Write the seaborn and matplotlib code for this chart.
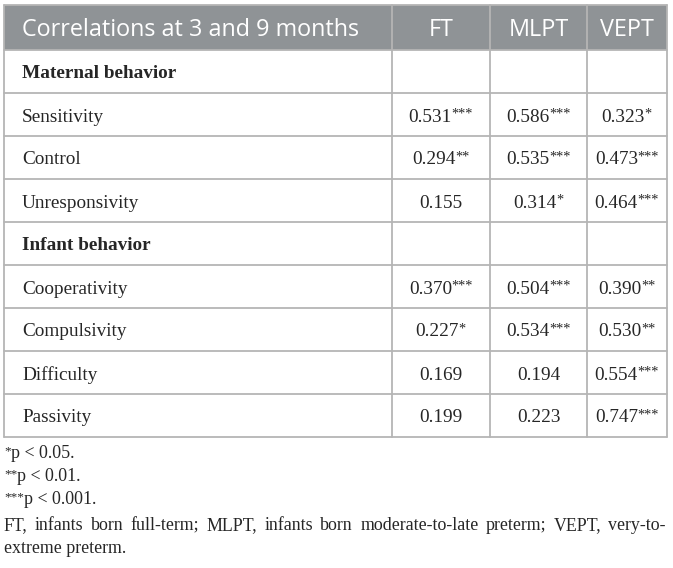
"""
Tabela de correlações 3 e 9 meses (FT / MLPT / VEPT) desenhada como figura.
Saída: out.png
"""
import matplotlib
matplotlib.use("Agg")
import matplotlib.pyplot as plt
from matplotlib.patches import Rectangle
import pandas as pd
import seaborn as sns

# ---- dados -----------------------------------------------------------------
header_title = "Correlations at 3 and 9 months"
groups = ["FT", "MLPT", "VEPT"]

row_labels = ["Maternal behavior", "Sensitivity", "Control", "Unresponsivity",
              "Infant behavior", "Cooperativity", "Compulsivity", "Difficulty", "Passivity"]
is_section = [True, False, False, False, True, False, False, False, False]

ft_r = [None, 0.531, 0.294, 0.155, None, 0.370, 0.227, 0.169, 0.199]
ft_sig = ["", "***", "**", "", "", "***", "*", "", ""]
mlpt_r = [None, 0.586, 0.535, 0.314, None, 0.504, 0.534, 0.194, 0.223]
mlpt_sig = ["", "***", "***", "*", "", "***", "***", "", ""]
vept_r = [None, 0.323, 0.473, 0.464, None, 0.390, 0.530, 0.554, 0.747]
vept_sig = ["", "*", "***", "***", "", "**", "**", "***", "***"]

notes_sig = [("*", "p < 0.05."), ("**", "p < 0.01."), ("***", "p < 0.001.")]
note_abbrev = ["FT, infants born full-term; MLPT, infants born moderate-to-late preterm; VEPT, very-to-",
               "extreme preterm."]

table = pd.DataFrame({
    "label": row_labels,
    "section": is_section,
    "FT": ft_r, "FT_sig": ft_sig,
    "MLPT": mlpt_r, "MLPT_sig": mlpt_sig,
    "VEPT": vept_r, "VEPT_sig": vept_sig,
})

# ---- layout (pixels) ---------------------------------------------------------
W, H = 673, 568
col_edges = [4, 392, 490, 587, 667]
top, head_bottom, row_h = 5, 50, 43
grid_color = "#b5b5b5"
head_color = "#8f9396"
SERIF = "Liberation Serif"
SANS = "Open Sans"
body_size = 13.9
note_size = 12.9
head_size = 16.8
STAR_RATIO = 0.74
STAR_RAISE = 0.3

sns.set_theme(style="white")
plt.rcParams["font.family"] = [SERIF, "DejaVu Serif"]

fig = plt.figure(figsize=(W / 100, H / 100), dpi=100)
ax = fig.add_axes([0, 0, 1, 1])
ax.set_xlim(0, W)
ax.set_ylim(H, 0)
ax.axis("off")
renderer = fig.canvas.get_renderer()


def width_of(t):
    return t.get_window_extent(renderer).width


def value_with_stars(x, y, num, stars, size, ha="center", weight="normal"):
    t = ax.text(0, y, num, fontsize=size, family=SERIF, va="baseline", ha="left", weight=weight)
    w1 = width_of(t)
    s, w2 = None, 0
    if stars:
        s = ax.text(0, y - size * STAR_RAISE, stars, fontsize=size * STAR_RATIO, family=SERIF,
                    va="baseline", ha="left")
        w2 = width_of(s)
    x0 = x - (w1 + w2) / 2 if ha == "center" else x
    t.set_x(x0)
    if s is not None:
        s.set_x(x0 + w1 - 0.5)


def prefix_stars(x, y, stars, text, size):
    s = ax.text(x, y - size * STAR_RAISE, stars, fontsize=size * STAR_RATIO, family=SERIF,
                va="baseline", ha="left")
    ax.text(x + width_of(s), y, text, fontsize=size, family=SERIF, va="baseline", ha="left")


def justified(x0, x1, y, text, size):
    words = text.split()
    objs = [ax.text(0, y, w, fontsize=size, family=SERIF, va="baseline", ha="left") for w in words]
    widths = [width_of(o) for o in objs]
    gap = (x1 - x0 - sum(widths)) / (len(words) - 1)
    x = x0
    for o, w in zip(objs, widths):
        o.set_x(x)
        x += w + gap


# ---- cabeçalho ---------------------------------------------------------------
ax.add_patch(Rectangle((col_edges[0], top), col_edges[-1] - col_edges[0], head_bottom - top,
                       facecolor=head_color, edgecolor="none"))
ax.text(col_edges[0] + 18, 36, header_title, fontsize=head_size, family=SANS, color="white",
        va="baseline", ha="left")
for i, g in enumerate(groups):
    xc = (col_edges[i + 1] + col_edges[i + 2]) / 2
    ax.text(xc, 36, g, fontsize=head_size, family=SANS, color="white", va="baseline", ha="center")

# ---- linhas da tabela --------------------------------------------------------
n = len(table)
bottom = head_bottom + n * row_h
for k in range(n + 1):
    yk = head_bottom + k * row_h
    ax.plot([col_edges[0], col_edges[-1]], [yk, yk], color=grid_color, lw=1.3)
ax.plot([col_edges[0], col_edges[-1]], [top, top], color=grid_color, lw=1.3)
for xe in col_edges:
    ax.plot([xe, xe], [top, bottom], color=grid_color, lw=1.3)

for k, row in table.iterrows():
    yb = head_bottom + k * row_h + row_h / 2 + 7
    ax.text(col_edges[0] + 18, yb, row["label"], fontsize=body_size, family=SERIF,
            weight="bold" if row["section"] else "normal", va="baseline", ha="left")
    for i, g in enumerate(groups):
        if pd.isna(row[g]):
            continue
        xc = (col_edges[i + 1] + col_edges[i + 2]) / 2
        value_with_stars(xc, yb, f"{row[g]:.3f}", row[f"{g}_sig"], body_size)

# ---- notas -------------------------------------------------------------------
note_y = [458, 481, 504]
for (st, txt), yb in zip(notes_sig, note_y):
    prefix_stars(col_edges[0], yb, st, txt, note_size)
justified(col_edges[0], col_edges[-1] - 1, 530, note_abbrev[0], note_size)
ax.text(col_edges[0], 553, note_abbrev[1], fontsize=note_size, family=SERIF,
        va="baseline", ha="left")

fig.savefig("out.png", dpi=100)
